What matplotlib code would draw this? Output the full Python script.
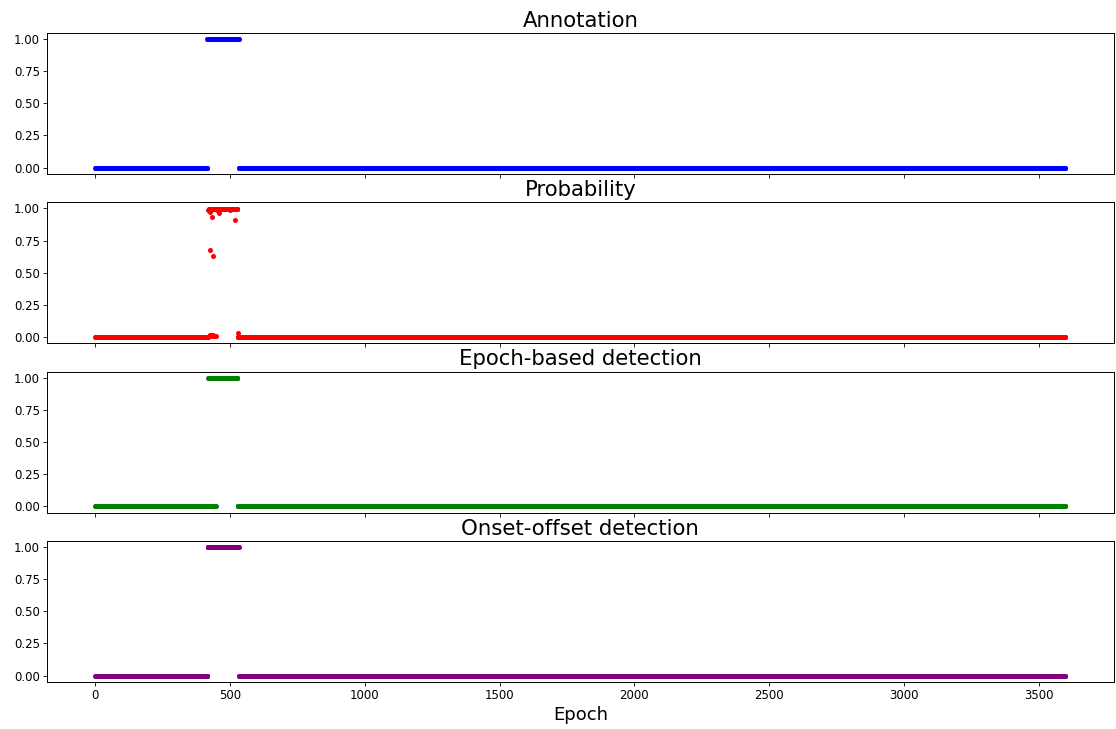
import numpy as np
import matplotlib
matplotlib.use("Agg")
import matplotlib.pyplot as plt

n_epochs = 3600

# (start, end, value) runs, end inclusive
annotation_runs = [(0, 415, 0), (416, 532, 1), (533, 3599, 0)]
onset_offset_runs = [(0, 416, 0), (417, 532, 1), (533, 3599, 0)]
probability_runs = [(0, 419, 0.002), (420, 527, 0.998), (528, 3599, 0.002)]

# epochs inside the seizure where the model dropped near zero
low_epochs = [421, 424, 427, 430, 433, 436, 440, 444, 448]
low_values = [0.012, 0.02, 0.015, 0.018, 0.01, 0.016, 0.012, 0.008, 0.006]

# single outlying probability values
outlier_epochs = [418, 422, 425, 426, 429, 432, 438, 452, 457, 470, 500, 517, 528]
outlier_values = [0.99, 0.985, 0.68, 0.975, 0.99, 0.936, 0.633, 0.985, 0.967, 0.995, 0.99, 0.91, 0.033]

titles = ["Annotation", "Probability", "Epoch-based detection", "Onset-offset detection"]
colors = ["blue", "red", "green", "purple"]


def expand(runs):
    y = np.zeros(n_epochs)
    for start, end, value in runs:
        y[start:end + 1] = value
    return y


epochs = np.arange(n_epochs)
annotation = expand(annotation_runs)
onset_offset = expand(onset_offset_runs)

probability = expand(probability_runs)
probability[low_epochs] = low_values
probability[outlier_epochs] = outlier_values

epoch_based = (probability > 0.5).astype(float)

series = [annotation, probability, epoch_based, onset_offset]

fig, axes = plt.subplots(4, 1, sharex=True, figsize=(11.16, 7.29), dpi=100)
fig.subplots_adjust(left=0.042, right=0.998, top=0.955, bottom=0.0645, hspace=0.2)

for ax, y, title, color in zip(axes, series, titles, colors):
    ax.scatter(epochs, y, s=13, color=color, linewidths=0)
    ax.set_title(title, fontsize=15.3, pad=4.5)
    ax.set_yticks([0, 0.25, 0.5, 0.75, 1.0])
    ax.tick_params(labelsize=8.5, length=2.6, width=0.6, pad=2.5)
    for spine in ax.spines.values():
        spine.set_linewidth(0.7)

axes[-1].set_xlabel("Epoch", fontsize=13, labelpad=3)

plt.savefig("out.png", dpi=100)
